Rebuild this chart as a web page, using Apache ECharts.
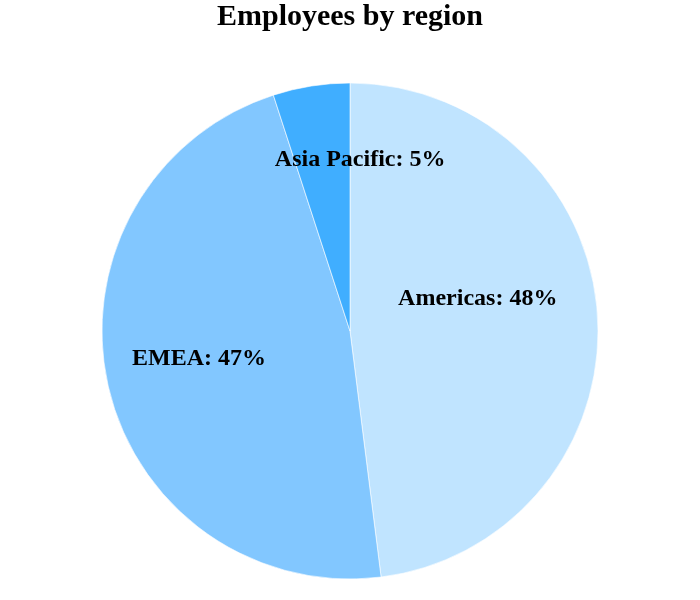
<!DOCTYPE html>
<html>
<head>
<meta charset="utf-8">
<script src="https://cdn.jsdelivr.net/npm/echarts@6/dist/echarts.min.js"></script>
<style>
  html, body { margin: 0; padding: 0; background: #fff; }
  #chart { width: 700px; height: 600px; }
</style>
</head>
<body>
<div id="chart"></div>
<script>
// region shares (%)
var regions = ['Americas', 'EMEA', 'Asia Pacific']
var shares = [48, 47, 5]
var colors = ['#C0E4FF', '#82C7FF', '#40AEFF']

var chart = echarts.init(document.getElementById('chart'))

// nudge the inside labels to where the reference puts them
var labelNudge = [[1, -24], [-27, 0], [30, -46]]

chart.setOption({
  animation: false,
  title: {
    text: 'Employees by region',
    left: 'center',
    top: -3,
    textStyle: {
      fontFamily: 'Liberation Serif',
      fontSize: 30,
      fontWeight: 'bold',
      color: '#000'
    }
  },
  series: [
    {
      type: 'pie',
      center: [350, 331],
      radius: 248,
      startAngle: 90,
      clockwise: true,
      color: colors,
      itemStyle: {
        borderColor: 'rgba(255,255,255,0.6)',
        borderWidth: 1
      },
      label: {
        show: true,
        position: 'inside',
        formatter: '{b}: {c}%',
        fontFamily: 'Liberation Serif',
        fontSize: 24,
        fontWeight: 'bold',
        color: '#000'
      },
      labelLayout: function (params) {
        var n = labelNudge[params.dataIndex]
        return { dx: n[0], dy: n[1] }
      },
      labelLine: { show: false },
      data: regions.map(function (name, i) {
        return { name: name, value: shares[i] }
      })
    }
  ]
})
</script>
</body>
</html>
